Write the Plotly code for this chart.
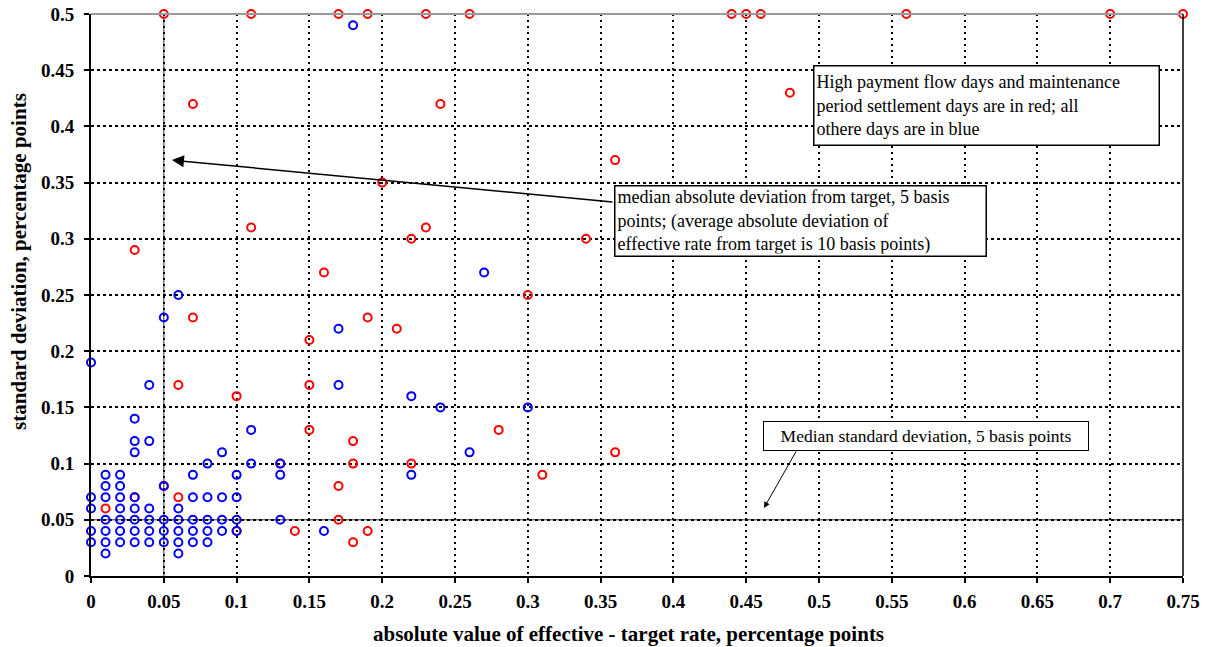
import plotly.graph_objects as go

# ---------------- data ----------------
red_x = [0.05, 0.11, 0.17, 0.19, 0.23, 0.26, 0.44, 0.45, 0.46, 0.56, 0.70, 0.75,
         0.07, 0.24, 0.48, 0.36, 0.20, 0.11, 0.23, 0.22, 0.34, 0.03, 0.16, 0.30,
         0.07, 0.19, 0.21, 0.15, 0.06, 0.15, 0.10, 0.15, 0.28, 0.18, 0.36, 0.18,
         0.22, 0.31, 0.17, 0.06, 0.01, 0.17, 0.14, 0.19, 0.18,
         0.03, 0.05, 0.10, 0.13]
red_y = [0.50, 0.50, 0.50, 0.50, 0.50, 0.50, 0.50, 0.50, 0.50, 0.50, 0.50, 0.50,
         0.42, 0.42, 0.43, 0.37, 0.35, 0.31, 0.31, 0.30, 0.30, 0.29, 0.27, 0.25,
         0.23, 0.23, 0.22, 0.21, 0.17, 0.17, 0.16, 0.13, 0.13, 0.12, 0.11, 0.10,
         0.10, 0.09, 0.08, 0.07, 0.06, 0.05, 0.04, 0.04, 0.03,
         0.07, 0.08, 0.04, 0.10]

blue_x = [0.18, 0.27, 0.06, 0.05, 0.17, 0.00, 0.04, 0.17, 0.22, 0.24, 0.30,
          0.03, 0.11, 0.03, 0.04, 0.03, 0.09, 0.26, 0.08, 0.11, 0.13,
          0.01, 0.02, 0.07, 0.10, 0.13, 0.22, 0.01, 0.02, 0.05,
          0.00, 0.01, 0.02, 0.03, 0.07, 0.08, 0.09, 0.10,
          0.00, 0.02, 0.03, 0.04, 0.06,
          0.01, 0.02, 0.03, 0.04, 0.05, 0.06, 0.07, 0.08, 0.09, 0.10, 0.13,
          0.00, 0.01, 0.02, 0.03, 0.04, 0.05, 0.06, 0.07, 0.08, 0.09, 0.10, 0.16,
          0.00, 0.01, 0.02, 0.03, 0.04, 0.05, 0.06, 0.07, 0.08,
          0.01, 0.06]
blue_y = [0.49, 0.27, 0.25, 0.23, 0.22, 0.19, 0.17, 0.17, 0.16, 0.15, 0.15,
          0.14, 0.13, 0.12, 0.12, 0.11, 0.11, 0.11, 0.10, 0.10, 0.10,
          0.09, 0.09, 0.09, 0.09, 0.09, 0.09, 0.08, 0.08, 0.08,
          0.07, 0.07, 0.07, 0.07, 0.07, 0.07, 0.07, 0.07,
          0.06, 0.06, 0.06, 0.06, 0.06,
          0.05, 0.05, 0.05, 0.05, 0.05, 0.05, 0.05, 0.05, 0.05, 0.05, 0.05,
          0.04, 0.04, 0.04, 0.04, 0.04, 0.04, 0.04, 0.04, 0.04, 0.04, 0.04, 0.04,
          0.03, 0.03, 0.03, 0.03, 0.03, 0.03, 0.03, 0.03, 0.03,
          0.02, 0.02]

x_ticks = [0, 0.05, 0.1, 0.15, 0.2, 0.25, 0.3, 0.35, 0.4, 0.45, 0.5, 0.55, 0.6, 0.65, 0.7, 0.75]
x_tick_labels = ["0", "0.05", "0.1", "0.15", "0.2", "0.25", "0.3", "0.35", "0.4",
                 "0.45", "0.5", "0.55", "0.6", "0.65", "0.7", "0.75"]
y_ticks = [0, 0.05, 0.1, 0.15, 0.2, 0.25, 0.3, 0.35, 0.4, 0.45, 0.5]
y_tick_labels = ["0", "0.05", "0.1", "0.15", "0.2", "0.25", "0.3", "0.35", "0.4", "0.45", "0.5"]

median_abs_dev = 0.05   # median absolute deviation from target
median_std = 0.05       # median standard deviation

x_title = "absolute value of effective - target rate, percentage points"
y_title = "standard deviation, percentage points"
note_colors = ("High payment flow days and maintenance<br>period settlement days are in red; all"
               "<br>othere days are in blue")
note_abs = ("median absolute deviation from target, 5 basis<br>points; (average absolute deviation of"
            "<br>effective rate from target is 10 basis points)")
note_std = "Median standard deviation, 5 basis points"

# ---------------- figure ----------------
SERIF = "Liberation Serif"
PX_L, PX_T, PX_W, PX_H = 91, 14, 1092, 562   # plot area on the page


def px(xp):
    return (xp - PX_L) / PX_W


def py(yp):
    return (PX_T + PX_H - yp) / PX_H


fig = go.Figure()

fig.add_trace(go.Scatter(
    x=red_x, y=red_y, mode="markers", cliponaxis=False, showlegend=False,
    marker=dict(symbol="circle-open", size=8, color="#ff0000", line=dict(width=2, color="#ff0000")),
))
fig.add_trace(go.Scatter(
    x=blue_x, y=blue_y, mode="markers", cliponaxis=False, showlegend=False,
    marker=dict(symbol="circle-open", size=8, color="#0000ff", line=dict(width=2, color="#0000ff")),
))

fig.update_layout(
    width=1217, height=647,
    margin=dict(l=91, r=34, t=14, b=71),
    paper_bgcolor="white", plot_bgcolor="white",
    font=dict(family=SERIF, color="black"),
    xaxis=dict(
        range=[0, 0.75], tickvals=x_ticks, ticktext=x_tick_labels, automargin=False,
        showgrid=True, gridcolor="black", gridwidth=1.5, griddash="2px,4px",
        zeroline=False, showline=True, linecolor="black", linewidth=2,
        ticks="outside", ticklen=5, tickwidth=1.5, tickcolor="black",
        tickfont=dict(family=SERIF, size=19, weight="bold", color="black"),
        ticklabelstandoff=2, ticklabeloverflow="allow",
    ),
    yaxis=dict(
        range=[0, 0.5], tickvals=y_ticks, ticktext=y_tick_labels, automargin=False,
        showgrid=True, gridcolor="black", gridwidth=1.5, griddash="3px,3px",
        zeroline=False, showline=True, linecolor="black", linewidth=2,
        ticks="outside", ticklen=5, tickwidth=1.5, tickcolor="black",
        tickfont=dict(family=SERIF, size=19, weight="bold", color="black"),
        ticklabelstandoff=6, ticklabeloverflow="allow",
    ),
)

# frame: gray top, black right
fig.add_shape(type="line", xref="paper", yref="paper", x0=0, x1=1, y0=1, y1=1,
              line=dict(color="#9a9a9a", width=2), layer="above")
fig.add_shape(type="line", xref="paper", yref="paper", x0=1, x1=1, y0=0, y1=1,
              line=dict(color="black", width=1.5), layer="above")
# median reference lines
fig.add_shape(type="line", xref="x", yref="paper", x0=median_abs_dev, x1=median_abs_dev, y0=0, y1=1,
              line=dict(color="#333333", width=1), layer="below")
fig.add_shape(type="line", xref="paper", yref="y", x0=0, x1=1, y0=median_std, y1=median_std,
              line=dict(color="#333333", width=1), layer="below")

# axis titles
fig.add_annotation(text=x_title, xref="paper", yref="paper", x=px(628), y=py(634),
                   showarrow=False, font=dict(family=SERIF, size=21, weight="bold"),
                   xanchor="center", yanchor="middle")
fig.add_annotation(text=y_title, xref="paper", yref="paper", x=px(19), y=py(262),
                   showarrow=False, textangle=-90, font=dict(family=SERIF, size=21, weight="bold"),
                   xanchor="center", yanchor="middle")

# text boxes
fig.add_annotation(text=note_colors, xref="paper", yref="paper",
                   x=px(813), y=py(65), xanchor="left", yanchor="top",
                   showarrow=False, align="left", width=340, height=74, valign="middle",
                   bordercolor="black", borderwidth=1.5, borderpad=2, bgcolor="white",
                   font=dict(family=SERIF, size=18, color="black"))
fig.add_annotation(text=note_abs, xref="paper", yref="paper",
                   x=px(614), y=py(185), xanchor="left", yanchor="top",
                   showarrow=False, align="left", width=366, height=65, valign="middle",
                   bordercolor="black", borderwidth=1.5, borderpad=2, bgcolor="white",
                   font=dict(family=SERIF, size=18, color="black"))
fig.add_annotation(text=note_std, xref="paper", yref="paper",
                   x=px(763), y=py(421), xanchor="left", yanchor="top",
                   showarrow=False, align="center", width=320, height=24, valign="middle",
                   bordercolor="black", borderwidth=1, borderpad=2, bgcolor="white",
                   font=dict(family=SERIF, size=17.5, color="black"))

# arrows
fig.add_annotation(text="", x=0.0556, y=0.370, xref="x", yref="y",
                   ax=442, ay=42, showarrow=True, arrowhead=2, arrowsize=1.6,
                   arrowwidth=1.5, arrowcolor="black")
fig.add_annotation(text="", x=0.4622, y=0.0605, xref="x", yref="y",
                   ax=33, ay=-58, showarrow=True, arrowhead=2, arrowsize=1.2,
                   arrowwidth=1, arrowcolor="black")

# remove the browser's default 8px body margin so the figure sits at the page origin
fig.write_html("out.html", config={"displayModeBar": False},
               post_script="document.body.style.margin='0';")
